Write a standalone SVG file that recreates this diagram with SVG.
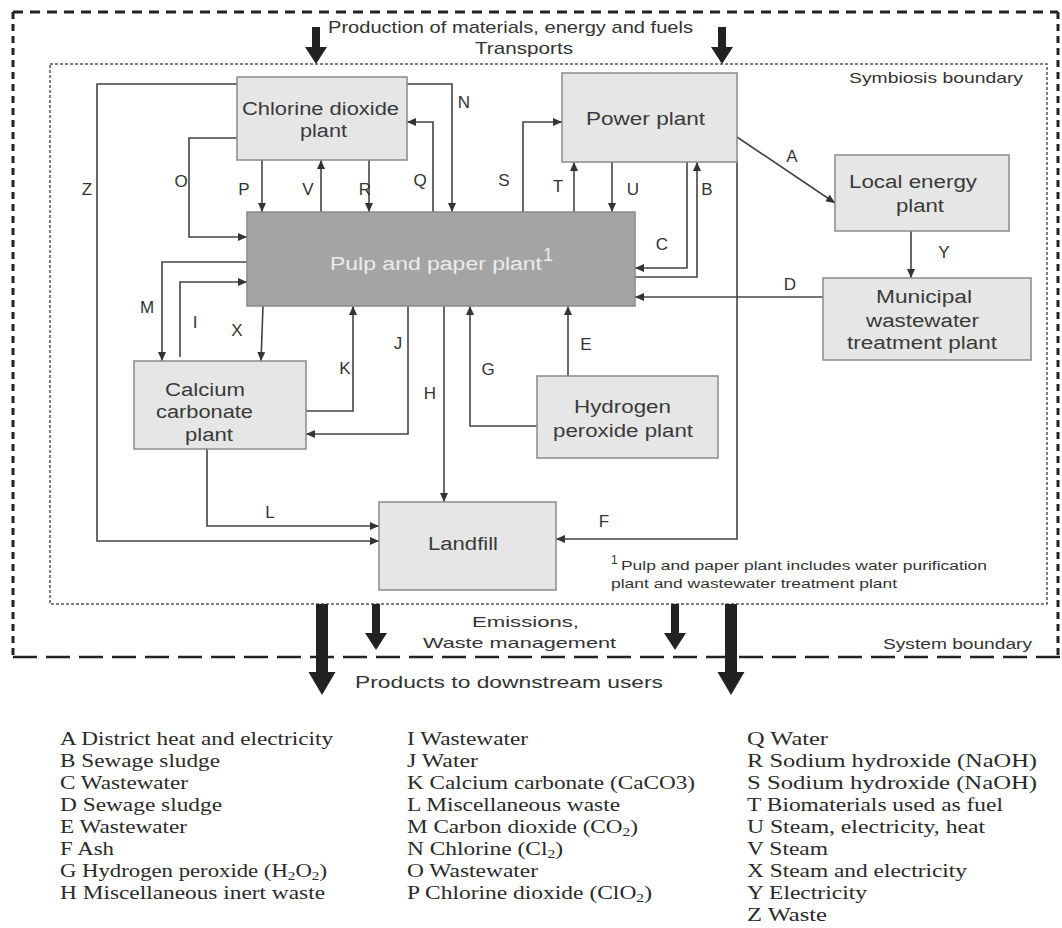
<svg xmlns="http://www.w3.org/2000/svg" width="1062" height="928" viewBox="0 0 1062 928">
<defs>
<style>
.box{fill:#e6e6e6;stroke:#8a8a8a;stroke-width:1.5}
.pulp{fill:#a4a4a4;stroke:#8a8a8a;stroke-width:1.5}
.bl{font-family:"Liberation Sans",Arial,sans-serif;font-size:18px;fill:#3a3a3a}
.pl{font-family:"Liberation Sans",Arial,sans-serif;font-size:18px;fill:#ececec}
.lt{font-family:"Liberation Sans",Arial,sans-serif;font-size:17px;fill:#333}
.note{font-family:"Liberation Sans",Arial,sans-serif;font-size:15px;fill:#333}
.fn{font-family:"Liberation Sans",Arial,sans-serif;font-size:12px;fill:#333}
.lg{font-family:"Liberation Serif","Times New Roman",serif;font-size:18px;fill:#2a2a2a}
.c{fill:none;stroke:#444;stroke-width:1.6;marker-end:url(#ah)}
.big{fill:#222}
</style>
<marker id="ah" markerWidth="9" markerHeight="8" refX="9" refY="4" orient="auto" markerUnits="userSpaceOnUse"><path d="M0,0 L9,4 L0,8 z" fill="#333"/></marker>
</defs>
<rect width="1062" height="928" fill="#fff"/>

<g id="system-boundary" fill="none" stroke="#222">
<line x1="13" y1="12" x2="1058" y2="12" stroke-width="3" stroke-dasharray="10 7"/>
<line x1="13" y1="12" x2="13" y2="657" stroke-width="3" stroke-dasharray="7 5"/>
<line x1="1058" y1="12" x2="1058" y2="657" stroke-width="3" stroke-dasharray="7 5"/>
<line x1="13" y1="657" x2="1062" y2="657" stroke-width="2.5" stroke-dasharray="24 9"/>
</g>
<g id="symbiosis-boundary" fill="none" stroke="#555" stroke-width="1.5" stroke-dasharray="3 2">
<rect x="50" y="64" width="997" height="540"/>
</g>

<g id="flows-in-out">
<polygon class="big" points="312,27 320,27 320,47 327,47 316,64 305,47 312,47"/>
<polygon class="big" points="718,27 726,27 726,47 733,47 722,64 711,47 718,47"/>
<polygon class="big" points="316,604 328,604 328,672 335.5,672 322,695 308.5,672 316,672"/>
<polygon class="big" points="372,604 380,604 380,633 387,633 376,650 365,633 372,633"/>
<polygon class="big" points="671,604 679,604 679,633 686,633 675,650 664,633 671,633"/>
<polygon class="big" points="725,604 737,604 737,672 744.5,672 731,695 717.5,672 725,672"/>
<text class="lt" x="328" y="33" font-size="16" textLength="365" lengthAdjust="spacingAndGlyphs">Production of materials, energy and fuels</text>
<text class="lt" x="475" y="54" font-size="16" textLength="98" lengthAdjust="spacingAndGlyphs">Transports</text>
<text class="note" x="849" y="83" textLength="174" lengthAdjust="spacingAndGlyphs">Symbiosis boundary</text>
<text class="note" x="472" y="627" textLength="107" lengthAdjust="spacingAndGlyphs">Emissions,</text>
<text class="note" x="423" y="648" textLength="193" lengthAdjust="spacingAndGlyphs">Waste management</text>
<text class="note" x="883" y="649" textLength="149" lengthAdjust="spacingAndGlyphs">System boundary</text>
<text class="lt" x="355" y="688" font-size="16" textLength="308" lengthAdjust="spacingAndGlyphs">Products to downstream users</text>
</g>

<g id="connectors">
<path class="c" d="M237 84 H97 V541 H379"/>
<path class="c" d="M407 84 H452 V212"/>
<path class="c" d="M433 212 V122 H407"/>
<path class="c" d="M237 138 H189 V237 H247"/>
<path class="c" d="M262 160 V212"/>
<path class="c" d="M321 212 V160"/>
<path class="c" d="M369 160 V212"/>
<path class="c" d="M523 212 V122 H562"/>
<path class="c" d="M574 212 V162"/>
<path class="c" d="M612 162 V212"/>
<path class="c" d="M687 162 V268 H635"/>
<path class="c" d="M635 277 H697 V162"/>
<path class="c" d="M737 162 V539 H556"/>
<path class="c" d="M737 137 L835 203"/>
<path class="c" d="M911 231 V278"/>
<path class="c" d="M823 297 H635"/>
<path class="c" d="M568 376 V306"/>
<path class="c" d="M537 426 H470 V306"/>
<path class="c" d="M444 306 V502"/>
<path class="c" d="M408 306 V434 H306"/>
<path class="c" d="M306 411 H353 V306"/>
<path class="c" d="M263 306 L261 361"/>
<path class="c" d="M180 357 V282 H247"/>
<path class="c" d="M247 262 H162 V361"/>
<path class="c" d="M207 449 V526 H379"/>
</g>

<g id="connector-labels" class="lt" text-anchor="middle">
<text x="87" y="195">Z</text>
<text x="181" y="187">O</text>
<text x="244" y="195">P</text>
<text x="308" y="195">V</text>
<text x="365" y="195">R</text>
<text x="420" y="186">Q</text>
<text x="464" y="108">N</text>
<text x="504" y="186">S</text>
<text x="558" y="192">T</text>
<text x="633" y="195">U</text>
<text x="707" y="195">B</text>
<text x="662" y="250">C</text>
<text x="792" y="162">A</text>
<text x="944" y="258">Y</text>
<text x="790" y="290">D</text>
<text x="586" y="350">E</text>
<text x="147" y="313">M</text>
<text x="195" y="328">I</text>
<text x="237" y="336">X</text>
<text x="345" y="374">K</text>
<text x="398" y="349">J</text>
<text x="430" y="399">H</text>
<text x="488" y="375">G</text>
<text x="270" y="518">L</text>
<text x="604" y="527">F</text>
</g>

<g id="chlorine-dioxide-plant">
<rect class="box" x="237" y="77" width="170" height="83"/>
<text class="bl" x="242" y="115" textLength="157" lengthAdjust="spacingAndGlyphs">Chlorine dioxide</text>
<text class="bl" x="300" y="137" textLength="47" lengthAdjust="spacingAndGlyphs">plant</text>
</g>
<g id="power-plant">
<rect class="box" x="562" y="73" width="175" height="89"/>
<text class="bl" x="586" y="125" textLength="119" lengthAdjust="spacingAndGlyphs">Power plant</text>
</g>
<g id="local-energy-plant">
<rect class="box" x="835" y="155" width="174" height="76"/>
<text class="bl" x="849" y="188" textLength="128" lengthAdjust="spacingAndGlyphs">Local energy</text>
<text class="bl" x="896" y="212" textLength="48" lengthAdjust="spacingAndGlyphs">plant</text>
</g>
<g id="municipal-wastewater-treatment-plant">
<rect class="box" x="823" y="278" width="208" height="82"/>
<text class="bl" x="876" y="303" textLength="96" lengthAdjust="spacingAndGlyphs">Municipal</text>
<text class="bl" x="866" y="327" textLength="113" lengthAdjust="spacingAndGlyphs">wastewater</text>
<text class="bl" x="847" y="349" textLength="150" lengthAdjust="spacingAndGlyphs">treatment plant</text>
</g>
<g id="pulp-and-paper-plant">
<rect class="pulp" x="247" y="212" width="388" height="94"/>
<text class="pl" x="330" y="270" textLength="212" lengthAdjust="spacingAndGlyphs">Pulp and paper plant</text>
<text class="pl" x="543" y="261" font-size="10">1</text>
</g>
<g id="calcium-carbonate-plant">
<rect class="box" x="134" y="361" width="172" height="88"/>
<text class="bl" x="165" y="396" textLength="80" lengthAdjust="spacingAndGlyphs">Calcium</text>
<text class="bl" x="156" y="418" textLength="97" lengthAdjust="spacingAndGlyphs">carbonate</text>
<text class="bl" x="185" y="441" textLength="48" lengthAdjust="spacingAndGlyphs">plant</text>
</g>
<g id="hydrogen-peroxide-plant">
<rect class="box" x="537" y="376" width="181" height="82"/>
<text class="bl" x="574" y="413" textLength="97" lengthAdjust="spacingAndGlyphs">Hydrogen</text>
<text class="bl" x="553" y="437" textLength="140" lengthAdjust="spacingAndGlyphs">peroxide plant</text>
</g>
<g id="landfill">
<rect class="box" x="379" y="502" width="177" height="88"/>
<text class="bl" x="428" y="550" textLength="70" lengthAdjust="spacingAndGlyphs">Landfill</text>
</g>

<g id="footnote">
<text class="fn" x="611" y="564" font-size="11">1</text>
<text class="fn" x="621" y="570" textLength="366" lengthAdjust="spacingAndGlyphs">Pulp and paper plant includes water purification</text>
<text class="fn" x="611" y="588" textLength="286" lengthAdjust="spacingAndGlyphs">plant and wastewater treatment plant</text>
</g>

<g id="legend" class="lg">
<text x="60" y="745" textLength="273" lengthAdjust="spacingAndGlyphs">A District heat and electricity</text>
<text x="60" y="767" textLength="160" lengthAdjust="spacingAndGlyphs">B Sewage sludge</text>
<text x="60" y="789" textLength="128" lengthAdjust="spacingAndGlyphs">C Wastewater</text>
<text x="60" y="811" textLength="162" lengthAdjust="spacingAndGlyphs">D Sewage sludge</text>
<text x="60" y="833" textLength="127" lengthAdjust="spacingAndGlyphs">E Wastewater</text>
<text x="60" y="855" textLength="54" lengthAdjust="spacingAndGlyphs">F Ash</text>
<text x="60" y="877" textLength="267" lengthAdjust="spacingAndGlyphs">G Hydrogen peroxide (H<tspan font-size="12" dy="3">2</tspan><tspan dy="-3">O</tspan><tspan font-size="12" dy="3">2</tspan><tspan dy="-3">)</tspan></text>
<text x="60" y="899" textLength="265" lengthAdjust="spacingAndGlyphs">H Miscellaneous inert waste</text>

<text x="407" y="745" textLength="121" lengthAdjust="spacingAndGlyphs">I Wastewater</text>
<text x="407" y="767" textLength="71" lengthAdjust="spacingAndGlyphs">J Water</text>
<text x="407" y="789" textLength="288" lengthAdjust="spacingAndGlyphs">K Calcium carbonate (CaCO3)</text>
<text x="407" y="811" textLength="213" lengthAdjust="spacingAndGlyphs">L Miscellaneous waste</text>
<text x="407" y="833" textLength="231" lengthAdjust="spacingAndGlyphs">M Carbon dioxide (CO<tspan font-size="12" dy="3">2</tspan><tspan dy="-3">)</tspan></text>
<text x="407" y="855" textLength="156" lengthAdjust="spacingAndGlyphs">N Chlorine (Cl<tspan font-size="12" dy="3">2</tspan><tspan dy="-3">)</tspan></text>
<text x="407" y="877" textLength="131" lengthAdjust="spacingAndGlyphs">O Wastewater</text>
<text x="407" y="899" textLength="245" lengthAdjust="spacingAndGlyphs">P Chlorine dioxide (ClO<tspan font-size="12" dy="3">2</tspan><tspan dy="-3">)</tspan></text>

<text x="747" y="745" textLength="81" lengthAdjust="spacingAndGlyphs">Q Water</text>
<text x="747" y="767" textLength="290" lengthAdjust="spacingAndGlyphs">R Sodium hydroxide (NaOH)</text>
<text x="747" y="789" textLength="290" lengthAdjust="spacingAndGlyphs">S Sodium hydroxide (NaOH)</text>
<text x="747" y="811" textLength="256" lengthAdjust="spacingAndGlyphs">T Biomaterials used as fuel</text>
<text x="747" y="833" textLength="238" lengthAdjust="spacingAndGlyphs">U Steam, electricity, heat</text>
<text x="747" y="855" textLength="81" lengthAdjust="spacingAndGlyphs">V Steam</text>
<text x="747" y="877" textLength="220" lengthAdjust="spacingAndGlyphs">X Steam and electricity</text>
<text x="747" y="899" textLength="120" lengthAdjust="spacingAndGlyphs">Y Electricity</text>
<text x="747" y="921" textLength="80" lengthAdjust="spacingAndGlyphs">Z Waste</text>
</g>
</svg>
